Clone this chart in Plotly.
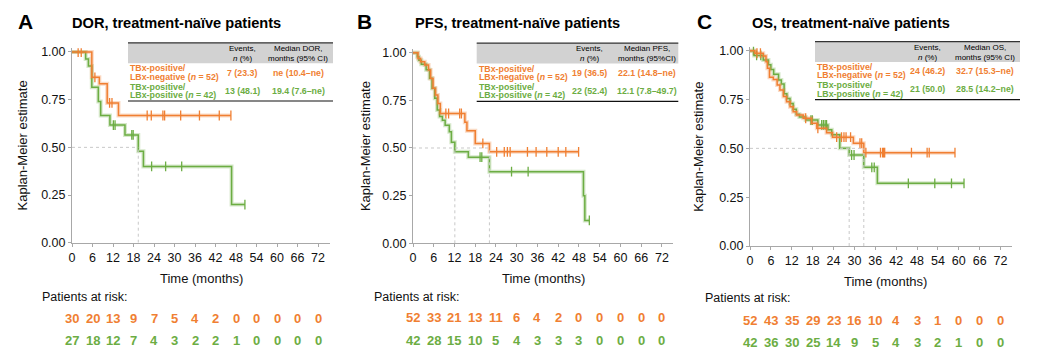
import plotly.graph_objects as go

W, H = 1058, 357
ORANGE = "#F07F32"
GREEN = "#6CAD43"
AXIS_COL = "#a8a8a8"
FONT = "Liberation Sans, Arial, Helvetica, sans-serif"

# ---------------- data ----------------
x_ticks = [0, 6, 12, 18, 24, 30, 36, 42, 48, 54, 60, 66, 72]
y_ticks = [0, 0.25, 0.5, 0.75, 1.0]
y_tick_labels = ["0.00", "0.25", "0.50", "0.75", "1.00"]
group_names = ["TBx-positive/", "LBx-negative (<i>n</i> = 52)", "TBx-positive/", "LBx-positive (<i>n</i> = 42)"]

# Panel A: DOR
a_or_t = [0, 5.8, 8.0, 10.3, 13.6]
a_or_s = [1.0, 0.867, 0.833, 0.733, 0.667]
a_or_cens = [1.8, 2.7, 6.7, 11.0, 11.7, 22.0, 23.2, 26.6, 27.1, 31.8, 37.3, 43.1, 46.5]
a_gr_t = [0, 4.0, 4.8, 5.8, 7.7, 8.4, 11.1, 15.5, 19.4, 20.9, 46.7]
a_gr_s = [1.0, 0.963, 0.926, 0.815, 0.741, 0.667, 0.617, 0.565, 0.48, 0.40, 0.20]
a_gr_cens = [12.1, 12.6, 17.5, 17.9, 23.3, 27.4, 32.1, 50.6]
a_medians = [19.4]
a_risk_or = [30, 20, 13, 9, 7, 5, 4, 2, 0, 0, 0, 0, 0]
a_risk_gr = [27, 18, 12, 7, 4, 3, 2, 2, 1, 0, 0, 0, 0]
a_events = ["7 (23.3)", "13 (48.1)"]
a_median_txt = ["ne (10.4–ne)", "19.4 (7.6–ne)"]

# Panel B: PFS
b_or_t = [0, 1.45, 2.2, 3.4, 4.5, 5.1, 5.8, 6.5, 7.2, 7.9, 15.0, 15.6, 18.0, 22.1]
b_or_s = [1.0, 0.97, 0.953, 0.935, 0.909, 0.865, 0.813, 0.778, 0.734, 0.681, 0.635, 0.59, 0.524, 0.48]
b_or_cens = [9.5, 10.3, 13.5, 14.0, 20.2, 24.2, 26.4, 27.3, 28.1, 33.1, 35.6, 38.7, 42.0, 44.2, 47.9]
b_gr_t = [0, 1.25, 1.7, 2.4, 3.8, 4.8, 5.5, 6.3, 7.0, 7.7, 8.5, 9.3, 10.5, 11.1, 12.1, 16.0, 22.1, 49.3, 49.7]
b_gr_s = [1.0, 0.979, 0.96, 0.94, 0.91, 0.866, 0.813, 0.761, 0.70, 0.665, 0.645, 0.62, 0.585, 0.53, 0.48, 0.452, 0.376, 0.25, 0.12]
b_gr_cens = [19.4, 19.9, 28.5, 33.3, 51.0]
b_medians = [12.1, 22.1]
b_risk_or = [52, 33, 21, 13, 11, 6, 4, 2, 0, 0, 0, 0, 0]
b_risk_gr = [42, 28, 15, 10, 5, 4, 3, 3, 3, 0, 0, 0, 0]
b_events = ["19 (36.5)", "22 (52.4)"]
b_median_txt = ["22.1 (14.8–ne)", "12.1 (7.8–49.7)"]

# Panel C: OS
c_or_t = [0, 1.4, 3.8, 4.6, 5.0, 5.6, 6.7, 7.8, 8.6, 9.6, 10.5, 11.5, 12.4, 13.4, 15.3, 17.7, 19.2, 22.0, 23.7, 29.7, 32.7]
c_or_s = [1.0, 0.987, 0.973, 0.944, 0.91, 0.864, 0.853, 0.824, 0.799, 0.765, 0.739, 0.713, 0.688, 0.671, 0.654, 0.628, 0.603, 0.58, 0.557, 0.526, 0.478]
c_or_cens = [2.0, 3.0, 16.0, 19.5, 24.9, 26.3, 27.0, 27.6, 28.9, 31.6, 32.1, 33.3, 37.5, 38.1, 38.4, 38.7, 46.4, 50.9, 51.5, 58.9]
c_gr_t = [0, 1.2, 3.8, 5.3, 6.0, 6.8, 8.2, 9.0, 9.8, 10.6, 11.5, 12.4, 13.3, 14.2, 16.0, 19.5, 22.4, 23.5, 25.8, 28.5, 32.7, 36.6]
c_gr_s = [1.0, 0.976, 0.952, 0.928, 0.904, 0.88, 0.85, 0.83, 0.78, 0.755, 0.73, 0.70, 0.675, 0.66, 0.645, 0.62, 0.595, 0.57, 0.50, 0.466, 0.403, 0.321]
c_gr_cens = [1.0, 1.9, 3.1, 17.5, 17.9, 20.6, 21.1, 21.6, 22.0, 29.2, 29.9, 35.0, 35.7, 45.5, 53.1, 57.9, 61.5]
c_medians = [28.5, 32.7]
c_risk_or = [52, 43, 35, 29, 23, 16, 10, 4, 3, 1, 0, 0, 0]
c_risk_gr = [42, 36, 30, 25, 14, 9, 5, 4, 3, 2, 1, 0, 0]
c_events = ["24 (46.2)", "21 (50.0)"]
c_median_txt = ["32.7 (15.3–ne)", "28.5 (14.2–ne)"]

# ---------------- layout geometry (pixels) ----------------
panels = [
    dict(letter="A", title="DOR, treatment-naïve patients", hdr2=["Median DOR,", "months (95% CI)"],
         or_t=a_or_t, or_s=a_or_s, or_c=a_or_cens, gr_t=a_gr_t, gr_s=a_gr_s, gr_c=a_gr_cens,
         med=a_medians, r_or=a_risk_or, r_gr=a_risk_gr, ev=a_events, mt=a_median_txt,
         letter_x=25, title_x=70, x0=72, x1=330, xmax=75.5, y0=242.7, unit=190.7,
         ytitle_x=22, tx0=128, tx1=333, c1=242, c2=298, ty=0,
         risk_x=40, risk_y=297, row_or=318.3, row_gr=340.7, xtitle_x=201, xtitle_y=278),
    dict(letter="B", title="PFS, treatment-naïve patients", hdr2=["Median PFS,", "months (95%CI)"],
         or_t=b_or_t, or_s=b_or_s, or_c=b_or_cens, gr_t=b_gr_t, gr_s=b_gr_s, gr_c=b_gr_cens,
         med=b_medians, r_or=b_risk_or, r_gr=b_risk_gr, ev=b_events, mt=b_median_txt,
         letter_x=364, title_x=413, x0=413, x1=673, xmax=75.2, y0=243.3, unit=190.6,
         ytitle_x=365, tx0=476.7, tx1=678.3, c1=589.3, c2=646.5, ty=0.3,
         risk_x=371.7, risk_y=297, row_or=317.7, row_gr=340.7, xtitle_x=543, xtitle_y=278.3),
    dict(letter="C", title="OS, treatment-naïve patients", hdr2=["Median OS,", "months (95% CI)"],
         or_t=c_or_t, or_s=c_or_s, or_c=c_or_cens, gr_t=c_gr_t, gr_s=c_gr_s, gr_c=c_gr_cens,
         med=c_medians, r_or=c_risk_or, r_gr=c_risk_gr, ev=c_events, mt=c_median_txt,
         letter_x=704.5, title_x=750, x0=750, x1=1011.7, xmax=75.2, y0=246, unit=195.3,
         ytitle_x=698.3, tx0=815, tx1=1020, c1=927.3, c2=985, ty=-1.3,
         risk_x=702.7, risk_y=298.3, row_or=320.7, row_gr=342.7, xtitle_x=885, xtitle_y=281),
]

YTOP = 1.02


def pxx(x):
    return x / W


def pyy(y):
    return 1 - y / H


def surv_at(ts, ss, t):
    v = ss[0]
    for ti, si in zip(ts, ss):
        if ti <= t:
            v = si
    return v


fig = go.Figure()
annotations = []
shapes = []
layout_axes = {}


def ann(x, y, text, size, color="black", xanchor="center", bold=False, xref="paper", **kw):
    if bold:
        text = "<b>" + text + "</b>"
    annotations.append(dict(x=x, y=y, xref=xref, yref="paper", text=text, showarrow=False,
                            xanchor=xanchor, yanchor="middle",
                            font=dict(size=size, color=color, family=FONT), **kw))


for i, p in enumerate(panels, start=1):
    xa = "x" if i == 1 else f"x{i}"
    ya = "y" if i == 1 else f"y{i}"
    xkey = "xaxis" if i == 1 else f"xaxis{i}"
    ykey = "yaxis" if i == 1 else f"yaxis{i}"
    ytop_px = p["y0"] - YTOP * p["unit"]
    layout_axes[xkey] = dict(domain=[pxx(p["x0"]), pxx(p["x1"])], range=[0, p["xmax"]], anchor=ya,
                             tickvals=x_ticks, ticktext=[str(v) for v in x_ticks],
                             showline=True, linecolor=AXIS_COL, linewidth=1, ticks="outside",
                             ticklen=3, tickcolor=AXIS_COL, showgrid=False, zeroline=False,
                             automargin=False,
                             tickfont=dict(size=12.5, color="#111", family=FONT))
    layout_axes[ykey] = dict(domain=[pyy(p["y0"]), pyy(ytop_px)], range=[0, YTOP], anchor=xa,
                             tickvals=y_ticks, ticktext=y_tick_labels,
                             showline=True, linecolor=AXIS_COL, linewidth=1, ticks="outside",
                             ticklen=3, tickcolor=AXIS_COL, showgrid=False, zeroline=False,
                             automargin=False,
                             tickfont=dict(size=12.5, color="#111", family=FONT))

    # median reference lines
    medmax = max(p["med"])
    shapes.append(dict(type="line", xref=xa, yref=ya, x0=0, x1=medmax, y0=0.5, y1=0.5,
                       line=dict(color="#c8c8c8", width=1, dash="dot")))
    for m in p["med"]:
        shapes.append(dict(type="line", xref=xa, yref=ya, x0=m, x1=m, y0=0, y1=0.5,
                           line=dict(color="#c8c8c8", width=1, dash="dot")))

    # curves
    for ts, ss, cs, col in [(p["gr_t"], p["gr_s"], p["gr_c"], GREEN),
                            (p["or_t"], p["or_s"], p["or_c"], ORANGE)]:
        xs = list(ts)
        ys = list(ss)
        tend = max(cs + ts)
        if tend > xs[-1]:
            xs.append(tend)
            ys.append(ys[-1])
        fig.add_trace(go.Scatter(x=xs, y=ys, xaxis=xa, yaxis=ya, mode="lines",
                                 line=dict(color=col, width=4, shape="hv"), opacity=0.28,
                                 hoverinfo="skip", showlegend=False))
        fig.add_trace(go.Scatter(x=xs, y=ys, xaxis=xa, yaxis=ya, mode="lines",
                                 line=dict(color=col, width=1.5, shape="hv"),
                                 showlegend=False))
        fig.add_trace(go.Scatter(x=cs, y=[surv_at(ts, ss, c) for c in cs], xaxis=xa, yaxis=ya,
                                 mode="markers",
                                 marker=dict(symbol="line-ns", size=7, line=dict(color=col, width=1.3)),
                                 showlegend=False))

    # titles
    ann(pxx(p["letter_x"]), pyy(21), "<b>" + p["letter"] + "</b>", 21)
    ann(pxx(p["title_x"]), pyy(22.5), "<b>" + p["title"] + "</b>", 14.6, xanchor="left")
    annotations.append(dict(x=pxx(p["ytitle_x"]), y=pyy((p["y0"] + ytop_px) / 2), xref="paper", yref="paper",
                            text="Kaplan-Meier estimate", showarrow=False, textangle=-90,
                            xanchor="center", yanchor="middle", font=dict(size=13, color="#111", family=FONT)))
    ann(pxx(p["xtitle_x"]), pyy(p["xtitle_y"]), "Time (months)", 13, color="#111")

    # inset table
    ty = p["ty"]
    shapes.append(dict(type="rect", xref="paper", yref="paper", x0=pxx(p["tx0"]), x1=pxx(p["tx1"]),
                       y0=pyy(63.3 + ty), y1=pyy(42.7 + ty), fillcolor="#d2d2d2", line=dict(width=0),
                       layer="below"))
    shapes.append(dict(type="line", xref="paper", yref="paper", x0=pxx(p["tx0"]), x1=pxx(p["tx1"]),
                       y0=pyy(42.9 + ty), y1=pyy(42.9 + ty), line=dict(color="#333", width=1.2)))
    shapes.append(dict(type="line", xref="paper", yref="paper", x0=pxx(p["tx0"]), x1=pxx(p["tx1"]),
                       y0=pyy(101 + ty), y1=pyy(101 + ty), line=dict(color="#111", width=1.2)))
    ann(pxx(p["c1"]), pyy(48.5 + ty), "Events,", 8)
    ann(pxx(p["c1"]), pyy(58.5 + ty), "<i>n</i> (%)", 8)
    ann(pxx(p["c2"]), pyy(48.5 + ty), p["hdr2"][0], 8)
    ann(pxx(p["c2"]), pyy(58.5 + ty), p["hdr2"][1], 8)
    for k, (col, yl1, yl2, yv) in enumerate([(ORANGE, 68.3, 76.7, 72.7), (GREEN, 86.5, 95, 90.7)]):
        ann(pxx(p["tx0"]), pyy(yl1 + ty), group_names[2 * k], 8.8, color=col, xanchor="left", bold=True)
        ann(pxx(p["tx0"]), pyy(yl2 + ty), group_names[2 * k + 1], 8.8, color=col, xanchor="left", bold=True)
        ann(pxx(p["c1"]), pyy(yv + ty), p["ev"][k], 8.8, color=col, bold=True)
        ann(pxx(p["c2"]), pyy(yv + ty), p["mt"][k], 8.8, color=col, bold=True)

    # risk table
    ann(pxx(p["risk_x"]), pyy(p["risk_y"]), "Patients at risk:", 12.5, color="#111", xanchor="left")
    for vals, col, yrow in [(p["r_or"], ORANGE, p["row_or"]), (p["r_gr"], GREEN, p["row_gr"])]:
        for t, v in zip(x_ticks, vals):
            annotations.append(dict(x=t, y=pyy(yrow), xref=xa, yref="paper", text=f"<b>{v}</b>",
                                    showarrow=False, xanchor="center", yanchor="middle",
                                    font=dict(size=13, color=col, family=FONT)))

fig.update_layout(width=W, height=H, margin=dict(l=0, r=0, t=0, b=0, pad=0), paper_bgcolor="white",
                  plot_bgcolor="white", showlegend=False, annotations=annotations, shapes=shapes,
                  font=dict(family=FONT), **layout_axes)

fig.write_html("out.html", config={"displayModeBar": False},
               post_script="document.documentElement.style.margin='0';"
                           "document.documentElement.style.overflow='hidden';"
                           "document.documentElement.style.height='357px';"
                           "document.body.style.margin='0';document.body.style.padding='0';"
                           "document.body.style.height='357px';"
                           "document.body.style.overflow='hidden';")
